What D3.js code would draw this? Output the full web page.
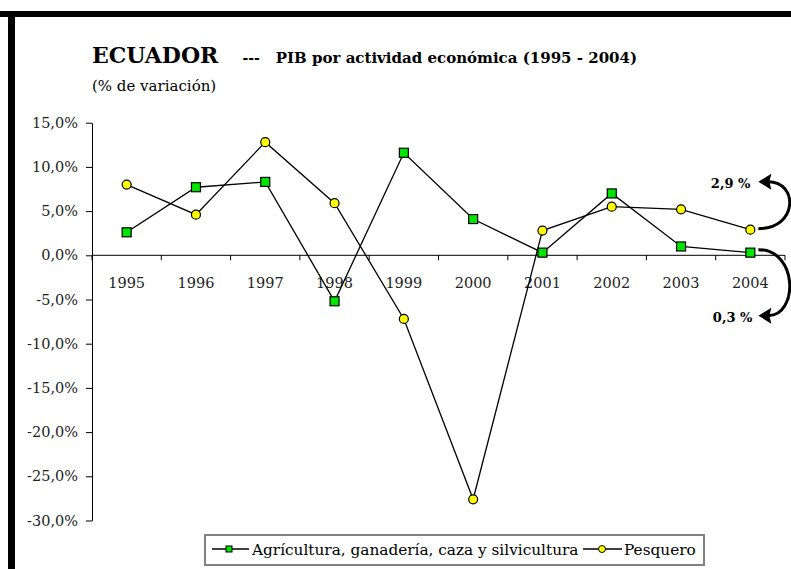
<!DOCTYPE html>
<html><head><meta charset="utf-8">
<script src="https://cdn.jsdelivr.net/npm/d3@7"></script>
<style>body{margin:0;background:#fff}svg{display:block}</style>
</head><body>
<svg id="c" width="791" height="569"></svg>
<script>
const years = ["1995","1996","1997","1998","1999","2000","2001","2002","2003","2004"];
const agricultura = [2.6, 7.7, 8.3, -5.2, 11.6, 4.1, 0.3, 7.0, 1.0, 0.3];
const pesquero = [8.0, 4.6, 12.8, 5.9, -7.2, -27.6, 2.8, 5.5, 5.2, 2.9];
const yTicks = [15, 10, 5, 0, -5, -10, -15, -20, -25, -30];
const seriesNames = ["Agrícultura, ganadería, caza y silvicultura", "Pesquero"];

const svg = d3.select("#c");
const FONT = "DejaVu Serif, Liberation Serif, serif";

// frame
svg.append("rect").attr("x",0).attr("y",11).attr("width",791).attr("height",6).attr("fill","#000");
svg.append("rect").attr("x",8).attr("y",11).attr("width",7).attr("height",558).attr("fill","#000");

const x = d3.scaleBand().domain(years).range([92, 785]).padding(0);
const y = d3.scaleLinear().domain([-30, 15]).range([520.5, 122.7]);

// titles
const t = svg.append("text").attr("x",92).attr("y",63).attr("font-family",FONT).attr("font-weight","bold").attr("fill","#000");
t.append("tspan").attr("font-size",22).text("ECUADOR");
t.append("tspan").attr("font-size",14).attr("dx",24).text("---");
t.append("tspan").attr("font-size",15).attr("dx",16).text("PIB por actividad económica (1995 - 2004)");
svg.append("text").attr("x",92).attr("y",91).attr("font-family",FONT).attr("font-size",15).text("(% de variación)");

// y axis
const yAxis = d3.axisLeft(y).tickValues(yTicks).tickSize(6).tickSizeOuter(0)
  .tickFormat(d => d.toFixed(1).replace(".", ",") + "%");
const gy = svg.append("g").attr("transform","translate(92,0)").call(yAxis);
gy.selectAll("text").attr("font-family",FONT).attr("font-size",14.5).attr("fill","#222").attr("x",-14);
gy.selectAll("line,path").attr("stroke","#000");

// zero line with boundary ticks
const y0 = y(0);
svg.append("line").attr("x1",x.range()[0]).attr("x2",x.range()[1]).attr("y1",y0).attr("y2",y0).attr("stroke","#000");
const bounds = years.map(d => x(d)).concat([x(years[years.length-1]) + x.bandwidth()]);
svg.selectAll(".bt").data(bounds).enter().append("line")
  .attr("x1",d=>d).attr("x2",d=>d).attr("y1",y0).attr("y2",y0+5).attr("stroke","#000");
svg.selectAll(".xl").data(years).enter().append("text")
  .attr("x",d=>x(d)+x.bandwidth()/2).attr("y",y0+33).attr("text-anchor","middle")
  .attr("font-family",FONT).attr("font-size",14.5).attr("fill","#222").text(d=>d);

const cx = d => x(d) + x.bandwidth()/2;
const line = d3.line().x((d,i)=>cx(years[i])).y(d=>y(d));

svg.append("path").datum(agricultura).attr("d",line).attr("fill","none").attr("stroke","#000").attr("stroke-width",1.3);
svg.append("path").datum(pesquero).attr("d",line).attr("fill","none").attr("stroke","#000").attr("stroke-width",1.3);

svg.selectAll(".sq").data(agricultura).enter().append("rect")
  .attr("x",(d,i)=>cx(years[i])-4.5).attr("y",d=>y(d)-4.5).attr("width",9).attr("height",9)
  .attr("fill","#00e600").attr("stroke","#000").attr("stroke-width",1.2);
svg.selectAll(".ci").data(pesquero).enter().append("circle")
  .attr("cx",(d,i)=>cx(years[i])).attr("cy",d=>y(d)).attr("r",4.5)
  .attr("fill","#ffff00").attr("stroke","#000").attr("stroke-width",1.2);

// annotations
const lx = cx(years[9]);
const pY = y(pesquero[9]), aY = y(agricultura[9]);
function arrow(x0,y0_,x1,y1,bulge){
  svg.append("path").attr("d",`M${x0},${y0_} C${x0+bulge},${y0_} ${x0+bulge},${y1} ${x1+10},${y1}`)
    .attr("fill","none").attr("stroke","#000").attr("stroke-width",3);
  svg.append("path").attr("d",`M${x1},${y1} L${x1+13},${y1-8} L${x1+11},${y1} L${x1+13},${y1+8} Z`).attr("fill","#000");
}
arrow(lx+8, pY-1, lx+8, pY-48, 40);
arrow(lx+8, aY-3, lx+8, aY+63, 40);
svg.append("text").attr("x",lx).attr("y",pY-42).attr("text-anchor","end").attr("font-family",FONT)
  .attr("font-weight","bold").attr("font-size",13).text(pesquero[9].toFixed(1).replace(".",",")+" %");
svg.append("text").attr("x",lx+2).attr("y",aY+69).attr("text-anchor","end").attr("font-family",FONT)
  .attr("font-weight","bold").attr("font-size",13).text(agricultura[9].toFixed(1).replace(".",",")+" %");

// legend
const lg = svg.append("g");
lg.append("rect").attr("x",205).attr("y",535).attr("width",499).attr("height",30)
  .attr("fill","#fff").attr("stroke","#808080").attr("stroke-width",2);
lg.append("line").attr("x1",212).attr("x2",249).attr("y1",549).attr("y2",549).attr("stroke","#000").attr("stroke-width",1.3);
lg.append("rect").attr("x",226).attr("y",546).attr("width",6).attr("height",6).attr("fill","#00e600").attr("stroke","#000");
lg.append("text").attr("x",252).attr("y",555).attr("font-family",FONT).attr("font-size",15.3).text(seriesNames[0]);
lg.append("line").attr("x1",583).attr("x2",622).attr("y1",549).attr("y2",549).attr("stroke","#000").attr("stroke-width",1.3);
lg.append("circle").attr("cx",602).attr("cy",549).attr("r",3.5).attr("fill","#ffff00").attr("stroke","#000");
lg.append("text").attr("x",624).attr("y",555).attr("font-family",FONT).attr("font-size",15.3).text(seriesNames[1]);
</script>
</body></html>
